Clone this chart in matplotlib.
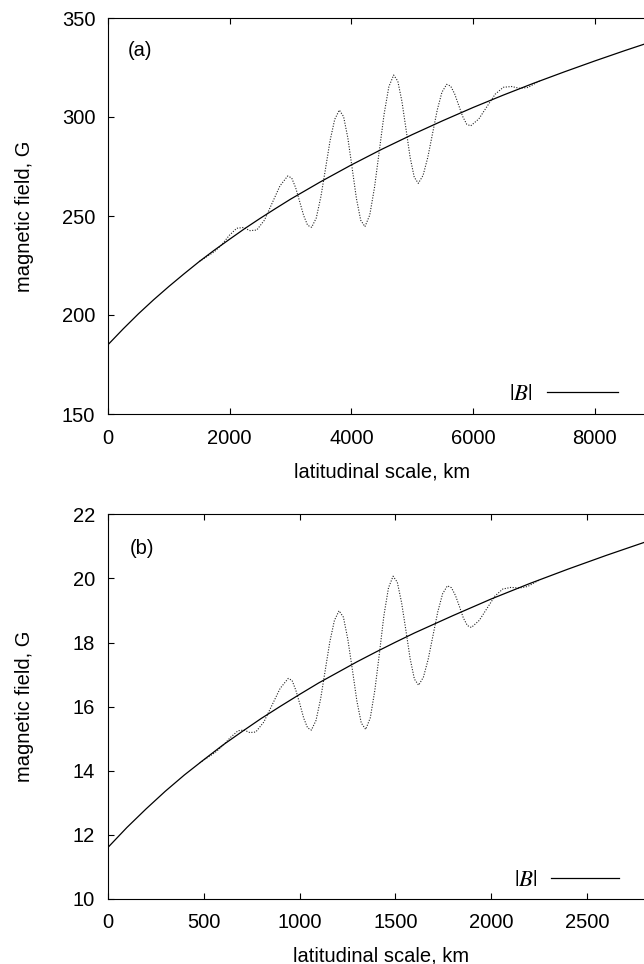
import matplotlib
matplotlib.use("Agg")
import matplotlib.pyplot as plt

plt.rcParams["font.family"] = ["Liberation Sans", "DejaVu Sans"]
plt.rcParams["mathtext.fontset"] = "stix"

# ---- panel (a): field magnitude and perturbed field ----
scale_a_km = [0, 250, 500, 750, 1000, 1250, 1500, 1750, 2000, 2250, 2500, 2750,
              3000, 3500, 4000, 4500, 5000, 5500, 6000, 6500, 7000, 7500,
              8000, 8500, 9000]
field_a_G = [185.0, 193.0, 200.6, 207.7, 214.4, 220.8, 227.0, 232.8, 238.3, 243.7,
             248.8, 253.7, 258.5, 267.4, 275.8, 283.7, 291.1, 298.1, 304.8, 311.1,
             317.1, 322.8, 328.3, 333.6, 338.7]

wave_a_km = [1500, 1625, 1750, 1872, 1993, 2115, 2225, 2334, 2444, 2571,
             2699, 2826, 2953, 3019, 3084, 3150, 3216, 3281, 3347, 3423,
             3499, 3575, 3650, 3726, 3802, 3872, 3942, 4013, 4083, 4153,
             4223, 4302, 4380, 4459, 4538, 4616, 4695, 4763, 4830, 4898,
             4965, 5033, 5100, 5178, 5255, 5333, 5411, 5488, 5566, 5632,
             5697, 5763, 5829, 5894, 5960, 6094, 6229, 6363, 6497, 6631,
             6766, 6900, 7000, 7100]
wave_a_G = [227.0, 229.5, 232.0, 235.6, 240.2, 243.8, 244.2, 242.6, 242.9, 247.9,
            256.6, 265.2, 270.2, 269.2, 264.3, 257.3, 250.2, 245.3, 244.3, 249.0,
            259.8, 273.9, 288.1, 298.8, 303.5, 300.2, 289.4, 274.1, 258.8, 247.9,
            244.6, 250.5, 264.4, 282.9, 301.5, 315.3, 321.2, 318.1, 308.0, 293.9,
            279.7, 269.6, 266.5, 270.5, 279.5, 291.5, 303.5, 312.5, 316.5, 315.6,
            311.7, 306.0, 300.3, 296.4, 295.5, 299.0, 305.3, 311.5, 315.0, 315.4,
            314.5, 314.9, 316.6, 318.3]

# ---- panel (b) ----
scale_b_km = [0, 100, 200, 300, 400, 500, 600, 700, 800, 900, 1000, 1100,
              1200, 1300, 1400, 1500, 1600, 1800, 2000, 2200, 2400, 2600,
              2800, 3000]
field_b_G = [11.60, 12.23, 12.81, 13.36, 13.87, 14.34, 14.80, 15.22, 15.63, 16.01,
             16.38, 16.74, 17.07, 17.40, 17.71, 18.01, 18.30, 18.84, 19.36, 19.84,
             20.29, 20.72, 21.13, 21.52]

wave_b_km = [480, 520, 560, 600, 640, 680, 711, 741, 772, 814,
             857, 899, 941, 961, 981, 1002, 1022, 1042, 1062, 1086,
             1110, 1134, 1158, 1182, 1206, 1229, 1252, 1276, 1299, 1322,
             1345, 1369, 1393, 1417, 1440, 1464, 1488, 1510, 1532, 1555,
             1577, 1599, 1621, 1646, 1671, 1696, 1721, 1746, 1771, 1792,
             1813, 1834, 1854, 1875, 1896, 1937, 1978, 2019, 2060, 2103,
             2147, 2190, 2220, 2250]
wave_b_G = [14.25, 14.41, 14.57, 14.78, 15.04, 15.25, 15.27, 15.19, 15.21, 15.52,
            16.05, 16.57, 16.88, 16.82, 16.51, 16.08, 15.64, 15.34, 15.27, 15.57,
            16.24, 17.13, 18.02, 18.69, 18.99, 18.79, 18.10, 17.14, 16.18, 15.49,
            15.29, 15.65, 16.52, 17.68, 18.84, 19.71, 20.07, 19.88, 19.25, 18.37,
            17.49, 16.86, 16.67, 16.92, 17.48, 18.22, 18.96, 19.52, 19.77, 19.71,
            19.47, 19.12, 18.77, 18.53, 18.47, 18.69, 19.07, 19.45, 19.67, 19.72,
            19.70, 19.75, 19.85, 19.95]

xticks_a = [0, 2000, 4000, 6000, 8000]
yticks_a = [150, 200, 250, 300, 350]
xticks_b = [0, 500, 1000, 1500, 2000, 2500]
yticks_b = [10, 12, 14, 16, 18, 20, 22]

FS = 14.5
W, H = 644, 964
fig = plt.figure(figsize=(W / 100, H / 100), dpi=100)

ax_a = fig.add_axes([108 / W, (H - 414) / H, 547.6 / W, 396 / H])
ax_b = fig.add_axes([107.7 / W, (H - 899) / H, 547.6 / W, 384.7 / H])


def style(ax, xticks, yticks, xlim, ylim, xpad):
    ax.set_xlim(*xlim)
    ax.set_ylim(*ylim)
    ax.set_xticks(xticks)
    ax.set_yticks(yticks)
    ax.tick_params(axis="both", which="major", direction="in", length=4.3,
                   width=0.8, top=True, right=True, labelsize=FS, color="black")
    ax.tick_params(axis="x", pad=xpad)
    ax.tick_params(axis="y", pad=9.2)
    for s in ax.spines.values():
        s.set_linewidth(0.8)
    ax.set_xlabel("latitudinal scale, km", fontsize=FS)
    ax.set_ylabel("magnetic field, G", fontsize=FS)


def curves(ax, wx, wy, sx, sy):
    ax.plot(wx, wy, color="#222222", lw=0.8, linestyle=(0, (1.0, 1.4)))
    ax.plot(sx, sy, color="black", lw=0.9, label=r"$|B|$",
            solid_joinstyle="round")


# panel (a)
curves(ax_a, wave_a_km, wave_a_G, scale_a_km, field_a_G)
style(ax_a, xticks_a, yticks_a, (0, 9000), (150, 350), 11)
ax_a.xaxis.set_label_coords(0.5, -48 / 396)
ax_a.yaxis.set_label_coords(-74 / 547.6, 0.5)
ax_a.text(20 / 547.6, (414 - 51) / 396, "(a)", transform=ax_a.transAxes,
          ha="left", va="center", fontsize=FS)
ax_a.legend(loc="center right", bbox_to_anchor=(510.3 / 547.6, 20 / 396),
            frameon=False, markerfirst=False, fontsize=16.5, handlelength=3.1,
            handletextpad=0.62, borderpad=0, borderaxespad=0)

# panel (b)
curves(ax_b, wave_b_km, wave_b_G, scale_b_km, field_b_G)
style(ax_b, xticks_b, yticks_b, (0, 2855), (10, 22), 10)
ax_b.xaxis.set_label_coords(0.5, -47 / 384.7)
ax_b.yaxis.set_label_coords(-74 / 547.6, 0.5)
ax_b.text(22.3 / 547.6, (899 - 548.5) / 384.7, "(b)", transform=ax_b.transAxes,
          ha="left", va="center", fontsize=FS)
ax_b.legend(loc="center right", bbox_to_anchor=(511.6 / 547.6, 19.7 / 384.7),
            frameon=False, markerfirst=False, fontsize=16.5, handlelength=3.0,
            handletextpad=0.57, borderpad=0, borderaxespad=0)

fig.savefig("out.png", dpi=100)
